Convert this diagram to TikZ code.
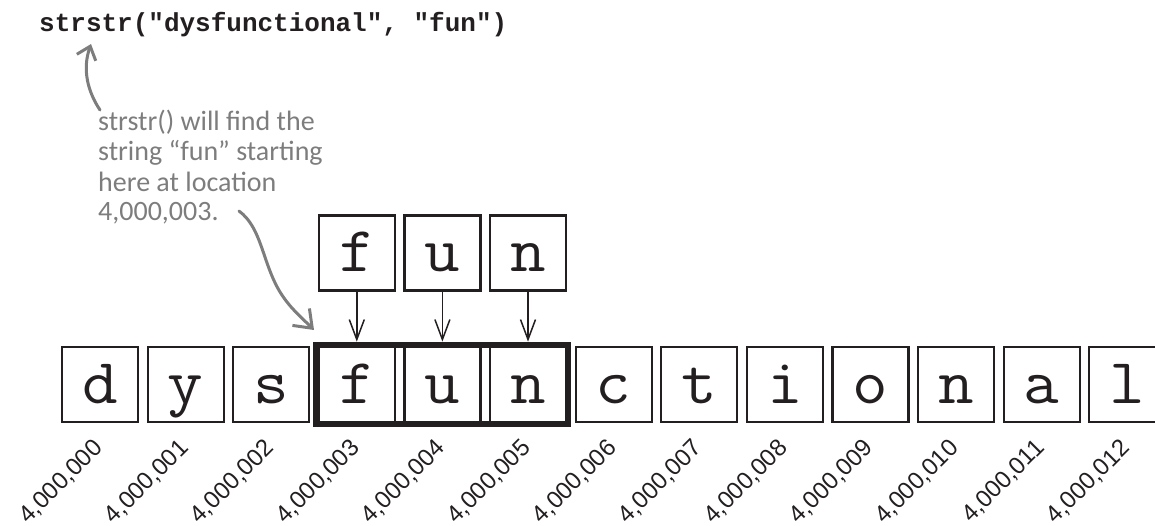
\documentclass[tikz,border=0pt]{standalone}
\usepackage{fontspec}
\usepackage{graphicx}
\newfontfamily\codefont{Liberation Mono}
\newfontfamily\labfont{Liberation Sans}
\newfontfamily\handfont{Carlito}
\newfontfamily\letterfont{Latin Modern Mono}
\usetikzlibrary{arrows.meta,fit}
\definecolor{ink}{RGB}{35,31,32}
\definecolor{anno}{RGB}{125,125,125}
\begin{document}
\begin{tikzpicture}[x=1pt,y=-1pt,
  cell/.style={draw=ink,line width=2.2pt,minimum width=76pt,minimum height=75pt,inner sep=0pt,
     font=\letterfont\fontsize{64}{64}\selectfont, text=ink, text height=37pt, text depth=0pt},
  idx/.style={font=\labfont\fontsize{24}{24}\selectfont, rotate=45, anchor=base east, inner sep=0pt, text=ink},
  hand/.style={font=\handfont\fontsize{28}{30}\selectfont, text=anno, anchor=base west, inner sep=0pt},
  feed/.style={draw=ink, line width=1.5pt, -{Straight Barb[length=20pt,width=15pt]}},
  note/.style={draw=anno, line width=3pt, line cap=round},
]
\useasboundingbox (0,0) rectangle (1155,525);
\clip (0,0) rectangle (1155,525);

\node[anchor=base west, inner sep=0pt, font=\codefont\bfseries\fontsize{26}{26}\selectfont, text=ink] (code) at (39,31) {strstr("dysfunctional", "fun")};

\foreach \c [count=\k from 0] in {d,y,s,f,u,n,c,t,i,o,n,a,l} {
  \node[cell] (b\k) at (100+85.6*\k, 384.5) {\scalebox{1.08}[1]{\c}};
  \node[idx] (L\k) at (104+85.6*\k, 449) {4,000,0\ifnum\k<10 0\fi\k};
}

\foreach \c [count=\k from 3] in {f,u,n} {
  \node[cell] (t\k) at (100+85.6*\k, 253) {\scalebox{1.08}[1]{\c}};
}

\node[fit=(b3)(b5), draw=ink, line width=6.5pt, inner sep=1pt] (frame) {};

\foreach \k in {3,4,5} {
  \draw[feed] (t\k.south) -- (t\k.south |- frame.north);
}

\node[hand] (n1) at (98,130) {strstr() will find the};
\node[hand] (n2) at (98,160) {string “fun” starting};
\node[hand] (n3) at (98,191) {here at location};
\node[hand] (n4) at (98,220) {4,000,003.};

\coordinate (p1) at (100,110);
\coordinate (c1) at (91,44);
\draw[note, -{Straight Barb[length=12pt,width=20pt]}] (p1) .. controls (88,92) and (82,70) .. (c1);

\coordinate (p2) at (239,211);
\coordinate (c2) at (314,330);
\draw[note, -{Straight Barb[length=16pt,width=24pt]}] (p2) .. controls (262,228) and (262,262) .. (280,292) .. controls (290,308) and (300,316) .. (c2);
\end{tikzpicture}
\end{document}
